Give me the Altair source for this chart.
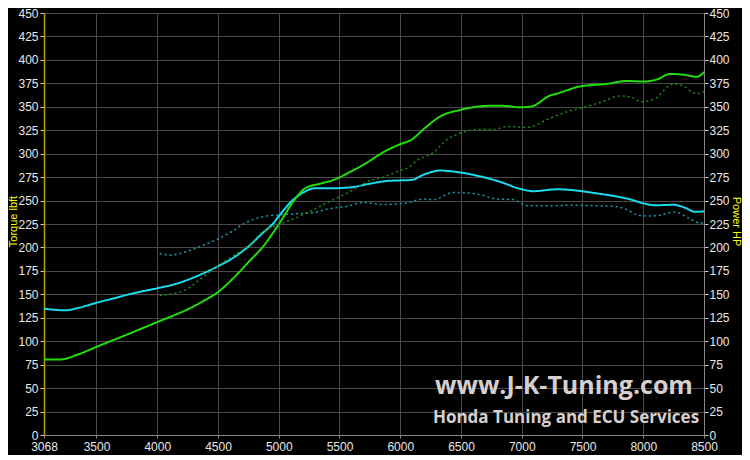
import altair as alt
import pandas as pd

# ---- data ----
tq_rpm = [3068, 3150, 3250, 3350, 3500, 3650, 3800, 4000, 4150, 4300, 4500, 4626, 4750, 4873,
          4950, 5010, 5120, 5216, 5285, 5400, 5586, 5750, 5900, 6000, 6094, 6200, 6327, 6492,
          6650, 6821, 7000, 7094, 7288, 7496, 7600, 7752, 7900, 8000, 8100, 8250, 8350, 8426, 8500]
tq_val = [135, 133.5, 133, 135.5, 141, 146, 151, 156.5, 161, 168, 180, 189, 201, 216,
          225, 235, 251, 259.6, 263, 263, 264, 268, 271, 271.5, 272, 278, 282, 280,
          276, 270, 262, 260, 262, 260, 258, 255, 251, 247, 245, 245.5, 242, 238, 238.5]

tq_base_rpm = [4020, 4105, 4200, 4350, 4490, 4600, 4730, 4871, 5025, 5150, 5282, 5400, 5570,
               5693, 5858, 6053, 6189, 6272, 6436, 6630, 6795, 6930, 7042, 7235, 7400, 7600,
               7781, 7862, 7973, 8081, 8262, 8380, 8467, 8500]
tq_base_val = [193.5, 191.8, 194, 201, 208.5, 216, 226.5, 232.8, 235, 236, 237, 241, 244,
               248, 245.7, 247.4, 251.6, 251, 258.6, 257, 251.6, 251, 244.5, 244.5, 245, 244.5,
               243.5, 240.5, 234, 233.5, 237.7, 231, 226, 226]

hp_rpm = [3068, 3200, 3350, 3500, 3750, 4000, 4250, 4375, 4500, 4624, 4763, 4871, 5010, 5120,
          5216, 5340, 5447, 5587, 5720, 5858, 5998, 6094, 6200, 6327, 6492, 6739, 6846, 6986,
          7082, 7233, 7288, 7480, 7699, 7864, 8000, 8110, 8220, 8330, 8440, 8500]
hp_val = [80.4, 80.5, 86, 94, 107, 120.4, 134, 142.5, 152.4, 167, 186, 201, 226.6, 249,
          263, 268, 271.8, 280.5, 290, 301.4, 310, 315, 327, 339.6, 346.6, 351, 351, 349.4,
          350.5, 362, 364, 371.7, 374.4, 377.5, 376.9, 379, 385, 384.2, 382, 387]

hp_base_rpm = [4020, 4105, 4250, 4352, 4489, 4600, 4750, 4871, 5010, 5175, 5312, 5450, 5587,
               5724, 5860, 5998, 6066, 6136, 6272, 6385, 6467, 6632, 6769, 6879, 7044, 7235,
               7375, 7510, 7647, 7812, 7922, 7977, 8086, 8250, 8315, 8440, 8500]
hp_base_val = [149, 150, 156, 166, 179.6, 189, 202, 217, 224.8, 233.5, 242, 251, 259.6,
               270, 275, 282, 285, 292.6, 301, 315, 320.5, 325.7, 325.7, 329, 328, 338,
               344.8, 349.4, 354.6, 361.6, 359.5, 355.3, 358, 374.5, 373, 364, 366.5]

x_ticks = [3068, 3500, 4000, 4500, 5000, 5500, 6000, 6500, 7000, 7500, 8000, 8500]
y_ticks = list(range(0, 451, 25))

# ---- tables ----
torque = pd.concat([
    pd.DataFrame({"rpm": tq_rpm, "v": tq_val, "s": "torque"}),
    pd.DataFrame({"rpm": tq_base_rpm, "v": tq_base_val, "s": "torque_base"}),
])
power = pd.concat([
    pd.DataFrame({"rpm": hp_rpm, "v": hp_val, "s": "power"}),
    pd.DataFrame({"rpm": hp_base_rpm, "v": hp_base_val, "s": "power_base"}),
])

W, H = 660, 422
FONT = "Liberation Sans"

xenc = alt.X("rpm:Q",
             scale=alt.Scale(domain=[3068, 8500], nice=False, zero=False),
             axis=alt.Axis(values=x_ticks, format="d", title=None, labelColor="#e8e8e8",
                           labelFont=FONT, labelFontSize=12, domainColor="#888888",
                           tickColor="#888888", tickSize=3, labelPadding=3,
                           gridColor="#4a4a4a", gridWidth=1, labelFlush=False))

yscale = alt.Scale(domain=[0, 450], nice=False, zero=True)

cols = alt.Scale(domain=["torque", "torque_base", "power", "power_base"],
                 range=["#19dcec", "#0fa0ae", "#22dd0c", "#1a9010"])

torque_layer = alt.Chart(torque).mark_line(interpolate="monotone").encode(
    x=xenc,
    y=alt.Y("v:Q", scale=yscale,
            axis=alt.Axis(values=y_ticks, title="Torque lbft", titleColor="#ffff00",
                          titleFont=FONT, titleFontSize=11, titleFontWeight="normal",
                          titleAngle=-90, titleX=-31, titleY=208, titleAlign="center",
                          titleBaseline="middle",
                          labelColor="#e8e8e8", labelFont=FONT, labelFontSize=12,
                          domainColor="#b4a400", domainWidth=1.5, tickColor="#cccccc",
                          tickSize=4, labelPadding=2, gridColor="#4a4a4a", gridWidth=1)),
    color=alt.Color("s:N", scale=cols, legend=None),
    strokeDash=alt.StrokeDash("s:N",
                              scale=alt.Scale(domain=["torque", "torque_base"],
                                              range=[[1, 0], [2, 3]]),
                              legend=None),
    strokeWidth=alt.StrokeWidth("s:N",
                                scale=alt.Scale(domain=["torque", "torque_base"],
                                                range=[2, 1.5]),
                                legend=None),
)

power_layer = alt.Chart(power).mark_line(interpolate="monotone").encode(
    x=xenc,
    y=alt.Y("v:Q", scale=yscale,
            axis=alt.Axis(values=y_ticks, orient="right", title="Power HP",
                          titleColor="#ffff00", titleFont=FONT, titleFontSize=11,
                          titleFontWeight="normal", titleAngle=90, titleX=31, titleY=208,
                          titleAlign="center", titleBaseline="middle",
                          labelColor="#e8e8e8", labelFont=FONT, labelFontSize=12,
                          domainColor="#888888", domainWidth=1, tickColor="#cccccc",
                          tickSize=4, labelPadding=1, grid=False)),
    color=alt.Color("s:N", scale=cols, legend=None),
    strokeDash=alt.StrokeDash("s:N",
                              scale=alt.Scale(domain=["power", "power_base"],
                                              range=[[1, 0], [2, 3]]),
                              legend=None),
    strokeWidth=alt.StrokeWidth("s:N",
                                scale=alt.Scale(domain=["power", "power_base"],
                                                range=[2, 1.5]),
                                legend=None),
)

wm1 = alt.Chart(pd.DataFrame({"t": ["www.J-K-Tuning.com"]})).mark_text(
    font="Open Sans", fontSize=25, fontWeight="bold", color="#d6cfcf", align="center",
    baseline="middle").encode(x=alt.value(520), y=alt.value(373), text="t:N")
wm2 = alt.Chart(pd.DataFrame({"t": ["Honda Tuning and ECU Services"]})).mark_text(
    font="Open Sans", fontSize=17, fontWeight="bold", color="#d6cfcf", align="center",
    baseline="middle").encode(x=alt.value(522), y=alt.value(405), text="t:N")

chart = alt.layer(torque_layer, power_layer, wm1, wm2).resolve_scale(
    y="independent", color="independent", strokeDash="independent",
    strokeWidth="independent"
).properties(
    width=W, height=H, background="#000000",
    padding={"left": 36, "top": 5, "right": 38, "bottom": 20},
    autosize=alt.AutoSizeParams(type="none"),
).configure_view(stroke=None)

chart.save("out.html", embed_options={"renderer": "svg", "actions": False})
